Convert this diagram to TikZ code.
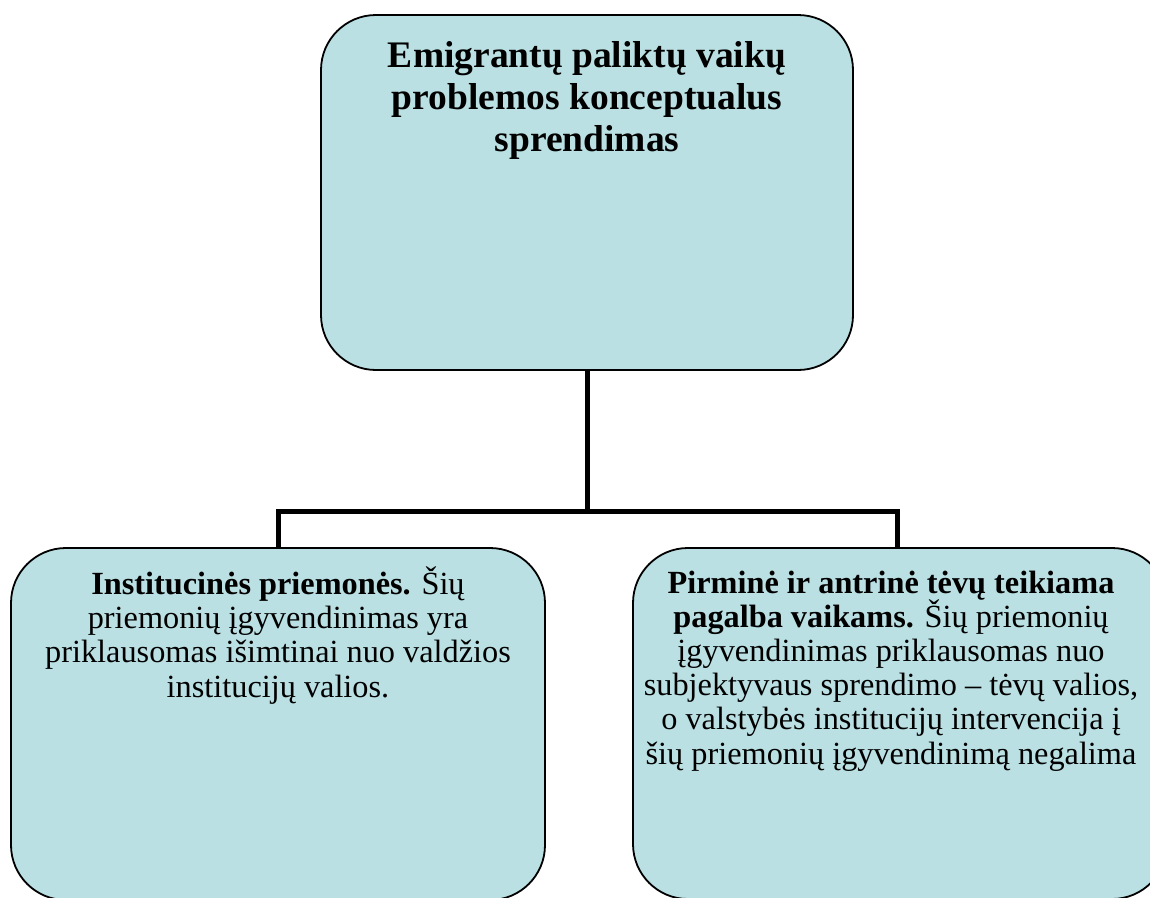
\documentclass[tikz,border=0pt]{standalone}
\usepackage{fontspec}
\setmainfont{Liberation Serif}
\definecolor{boxfill}{RGB}{186,224,227}
\newcommand\mytightlines{\lineskiplimit=-100pt\relax\lineskip=0pt\relax}
\tikzset{
  roundbox/.style={draw=black, line width=1.8pt, fill=boxfill, rounded corners=55pt},
  titletext/.style={font=\fontsize{37.5}{42}\selectfont\bfseries\mytightlines, align=center, inner sep=0pt, anchor=base},
  bodytext/.style={font=\fontsize{32.3}{34.1}\selectfont\mytightlines, align=center, inner sep=0pt, anchor=base},
  connector/.style={draw=black, line width=5pt}
}
\begin{document}
\begin{tikzpicture}[x=1pt,y=-1pt]
\useasboundingbox (0,0) rectangle (1150,897);
\begin{scope}
\clip (0,0) rectangle (1150,897);
% boxes
\draw[roundbox] (321,15) rectangle (853,370);
\draw[roundbox] (11,548) rectangle (545,900);
\draw[roundbox] (633,548) rectangle (1167,899);
\end{scope}
% named anchors
\coordinate (topS) at (587,370);
\coordinate (junc) at (587,511);
\coordinate (leftN) at (278,548);
\coordinate (rightN) at (897,548);
\coordinate (leftT) at (278,511);
\coordinate (rightT) at (897,511);
\draw[connector] (topS) -- (junc);
\draw[connector, line join=miter] (leftN) -- (leftT) -- (rightT) -- (rightN);
% texts (anchor=base is the baseline of the last line)
\node[titletext] (title) at (587,151) {Emigrantų paliktų vaikų\\problemos konceptualus\\sprendimas};
\node[bodytext] (lefttxt) at (278,697) {\textbf{Institucinės priemonės.} Šių\\priemonių įgyvendinimas yra\\priklausomas išimtinai nuo valdžios\\institucijų valios.};
\node[bodytext] (righttxt) at (891,764) {\textbf{Pirminė ir antrinė tėvų teikiama}\\\textbf{pagalba vaikams.} Šių priemonių\\įgyvendinimas priklausomas nuo\\subjektyvaus sprendimo – tėvų valios,\\o valstybės institucijų intervencija į\\šių priemonių įgyvendinimą negalima};
\end{tikzpicture}
\end{document}
